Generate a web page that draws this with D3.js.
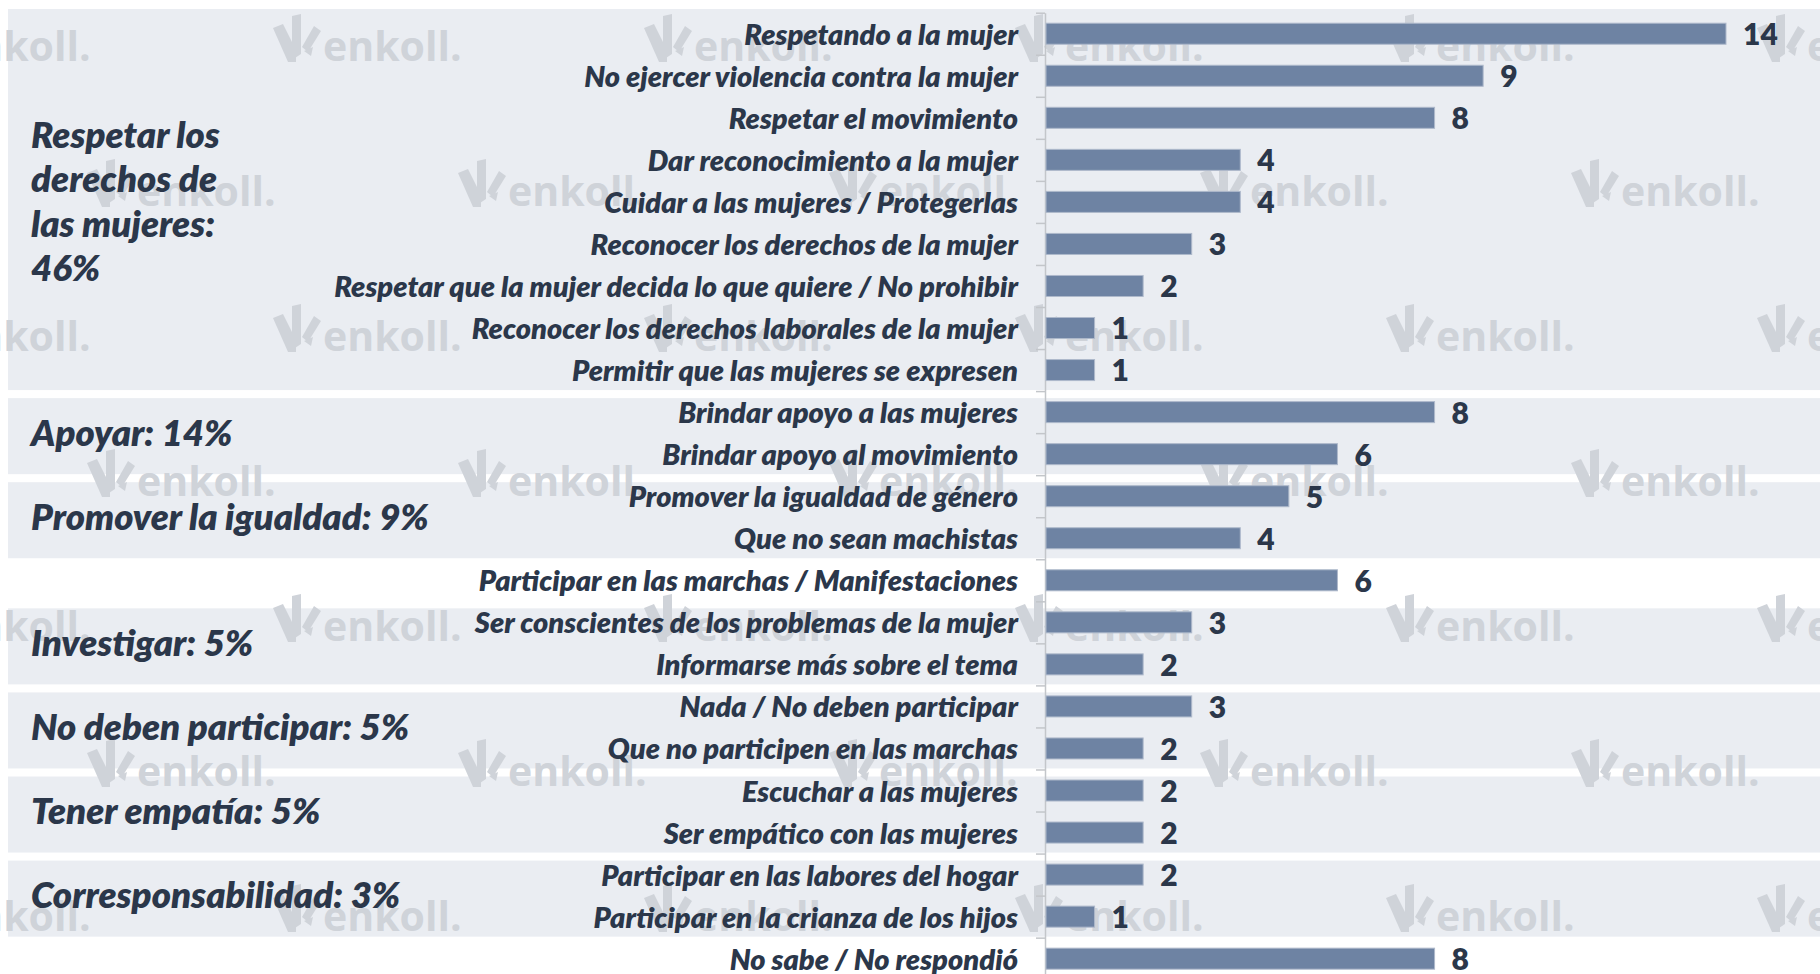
<!DOCTYPE html>
<html>
<head>
<meta charset="utf-8">
<script src="https://cdn.jsdelivr.net/npm/d3@7"></script>
<style>
  html, body { margin: 0; padding: 0; background: #fff; }
  svg { display: block; }
  .row-label, .group-label { font-family: Lato, "Open Sans", sans-serif; font-weight: 800; font-style: italic; fill: #2b374a; }
  .value-label { font-family: Lato, "Open Sans", sans-serif; font-weight: 800; fill: #2b374a; }
  .mark { fill: #cfd3d9; }
</style>
</head>
<body>
<div class="chart"></div>
<script>
// ---- data ----
const rows = [
  'Respetando a la mujer',
  'No ejercer violencia contra la mujer',
  'Respetar el movimiento',
  'Dar reconocimiento a la mujer',
  'Cuidar a las mujeres / Protegerlas',
  'Reconocer los derechos de la mujer',
  'Respetar que la mujer decida lo que quiere / No prohibir',
  'Reconocer los derechos laborales de la mujer',
  'Permitir que las mujeres se expresen',
  'Brindar apoyo a las mujeres',
  'Brindar apoyo al movimiento',
  'Promover la igualdad de género',
  'Que no sean machistas',
  'Participar en las marchas / Manifestaciones',
  'Ser conscientes de los problemas de la mujer',
  'Informarse más sobre el tema',
  'Nada / No deben participar',
  'Que no participen en las marchas',
  'Escuchar a las mujeres',
  'Ser empático con las mujeres',
  'Participar en las labores del hogar',
  'Participar en la crianza de los hijos',
  'No sabe / No respondió'
];
const values = [14, 9, 8, 4, 4, 3, 2, 1, 1, 8, 6, 5, 4, 6, 3, 2, 3, 2, 2, 2, 2, 1, 8];

const groupLabels = [
  ['Respetar los', 'derechos de', 'las mujeres:', '46%'],
  ['Apoyar: 14%'],
  ['Promover la igualdad: 9%'],
  ['Investigar: 5%'],
  ['No deben participar: 5%'],
  ['Tener empatía: 5%'],
  ['Corresponsabilidad: 3%']
];
// first and last row of each group
const groupFirst = [0, 9, 11, 14, 16, 18, 20];
const groupLast  = [8, 10, 12, 15, 17, 19, 21];

// ---- layout ----
const width = 1820, height = 974;

const svg = d3.select('.chart').append('svg')
  .attr('width', width)
  .attr('height', height);

const y = d3.scaleBand()
  .domain(rows)
  .range([12.7, 979.7])
  .paddingInner(0.5)
  .paddingOuter(0.25);

const x = d3.scaleLinear()
  .domain([0, 14])
  .range([1046, 1726]);

const yc = r => y(r) + y.bandwidth() / 2;

// group bands
const bands = svg.append('g');
groupFirst.forEach((f, i) => {
  const top = i === 0 ? 9 : yc(rows[f]) - 14;
  const bottom = yc(rows[groupLast[i]]) + 20;
  bands.append('rect')
    .attr('x', 8)
    .attr('y', top)
    .attr('width', width - 8)
    .attr('height', bottom - top)
    .attr('fill', '#eaedf2');
});

// watermark
const marks = svg.append('g');
const drawMark = (mx, my) => {
  const g = marks.append('g').attr('transform', 'translate(' + mx + ',' + my + ')');
  g.append('path').attr('class', 'mark')
    .attr('d', 'M0,14 L10,10 L23,36 L23,48 L15,48 Z');
  g.append('path').attr('class', 'mark')
    .attr('d', 'M19,2 L28,0 L28,40 L19,46 Z');
  g.append('path').attr('class', 'mark')
    .attr('d', 'M29,33 L41,12 L48,17 L35,38 Z');
  g.append('path').attr('class', 'mark')
    .attr('d', 'M31,37 L40,33 L38,42 Z');
  g.append('text').attr('class', 'mark')
    .attr('x', 50)
    .attr('y', 47)
    .style('font-family', '"Open Sans", sans-serif')
    .style('font-weight', 700)
    .style('font-size', '41px')
    .text('enkoll.');
};
for (let r = 0; r < 7; r++) {
  const offset = r % 2 === 0 ? -98 : 87;
  for (let c = 0; c < 6; c++) {
    drawMark(offset + c * 371, 14 + r * 145);
  }
}

// axis with ticks between categories
const edges = d3.scaleLinear().domain([0, rows.length]).range(y.range());
svg.append('g')
  .attr('transform', 'translate(1045,0)')
  .call(d3.axisLeft(edges).tickValues(d3.range(rows.length + 1)).tickFormat('').tickSizeInner(9).tickSizeOuter(0))
  .call(g => g.selectAll('line, path').attr('stroke', '#c3c6ca').attr('stroke-width', 1.5));

// row labels
const labelAxis = svg.append('g')
  .attr('transform', 'translate(1045,0)')
  .call(d3.axisLeft(y).tickSize(0).tickPadding(27));
labelAxis.select('.domain').remove();
labelAxis.selectAll('text')
  .attr('class', 'row-label')
  .attr('font-family', null)
  .attr('font-size', null)
  .attr('dy', '0.38em');

// fit the row label size to the width of the longest label in the picture
const longest = labelAxis.selectAll('text').filter(d => d === rows[6]);
longest.style('font-size', '100px');
const rowSize = 100 * 684 / longest.node().getComputedTextLength();
labelAxis.selectAll('text').style('font-size', rowSize + 'px');

// bars
svg.append('g')
  .selectAll('rect')
  .data(rows)
  .join('rect')
  .attr('x', x(0))
  .attr('y', d => y(d))
  .attr('width', (d, i) => x(values[i]) - x(0))
  .attr('height', y.bandwidth())
  .attr('fill', '#6e83a3')
  .attr('stroke', '#aeb9cb')
  .attr('stroke-width', 1);

// value labels
svg.append('g')
  .selectAll('text')
  .data(rows)
  .join('text')
  .attr('class', 'value-label')
  .attr('x', (d, i) => x(values[i]) + 17)
  .attr('y', d => yc(d))
  .attr('dy', '0.38em')
  .style('font-size', '30px')
  .text((d, i) => values[i]);

// group labels
const groupG = svg.append('g');
const probe = groupG.append('text').attr('class', 'group-label').style('font-size', '100px').text(groupLabels[2][0]);
const groupSize = 100 * 398 / probe.node().getComputedTextLength();
probe.remove();
const lineH = 44.5;

groupLabels.forEach((lines, i) => {
  const mid = (yc(rows[groupFirst[i]]) + yc(rows[groupLast[i]])) / 2;
  const t = groupG.append('text')
    .attr('class', 'group-label')
    .style('font-size', groupSize + 'px');
  lines.forEach((line, j) => {
    t.append('tspan')
      .attr('x', 31)
      .attr('y', mid + (j - (lines.length - 1) / 2) * lineH)
      .attr('dy', '0.35em')
      .text(line);
  });
});
</script>
</body>
</html>
